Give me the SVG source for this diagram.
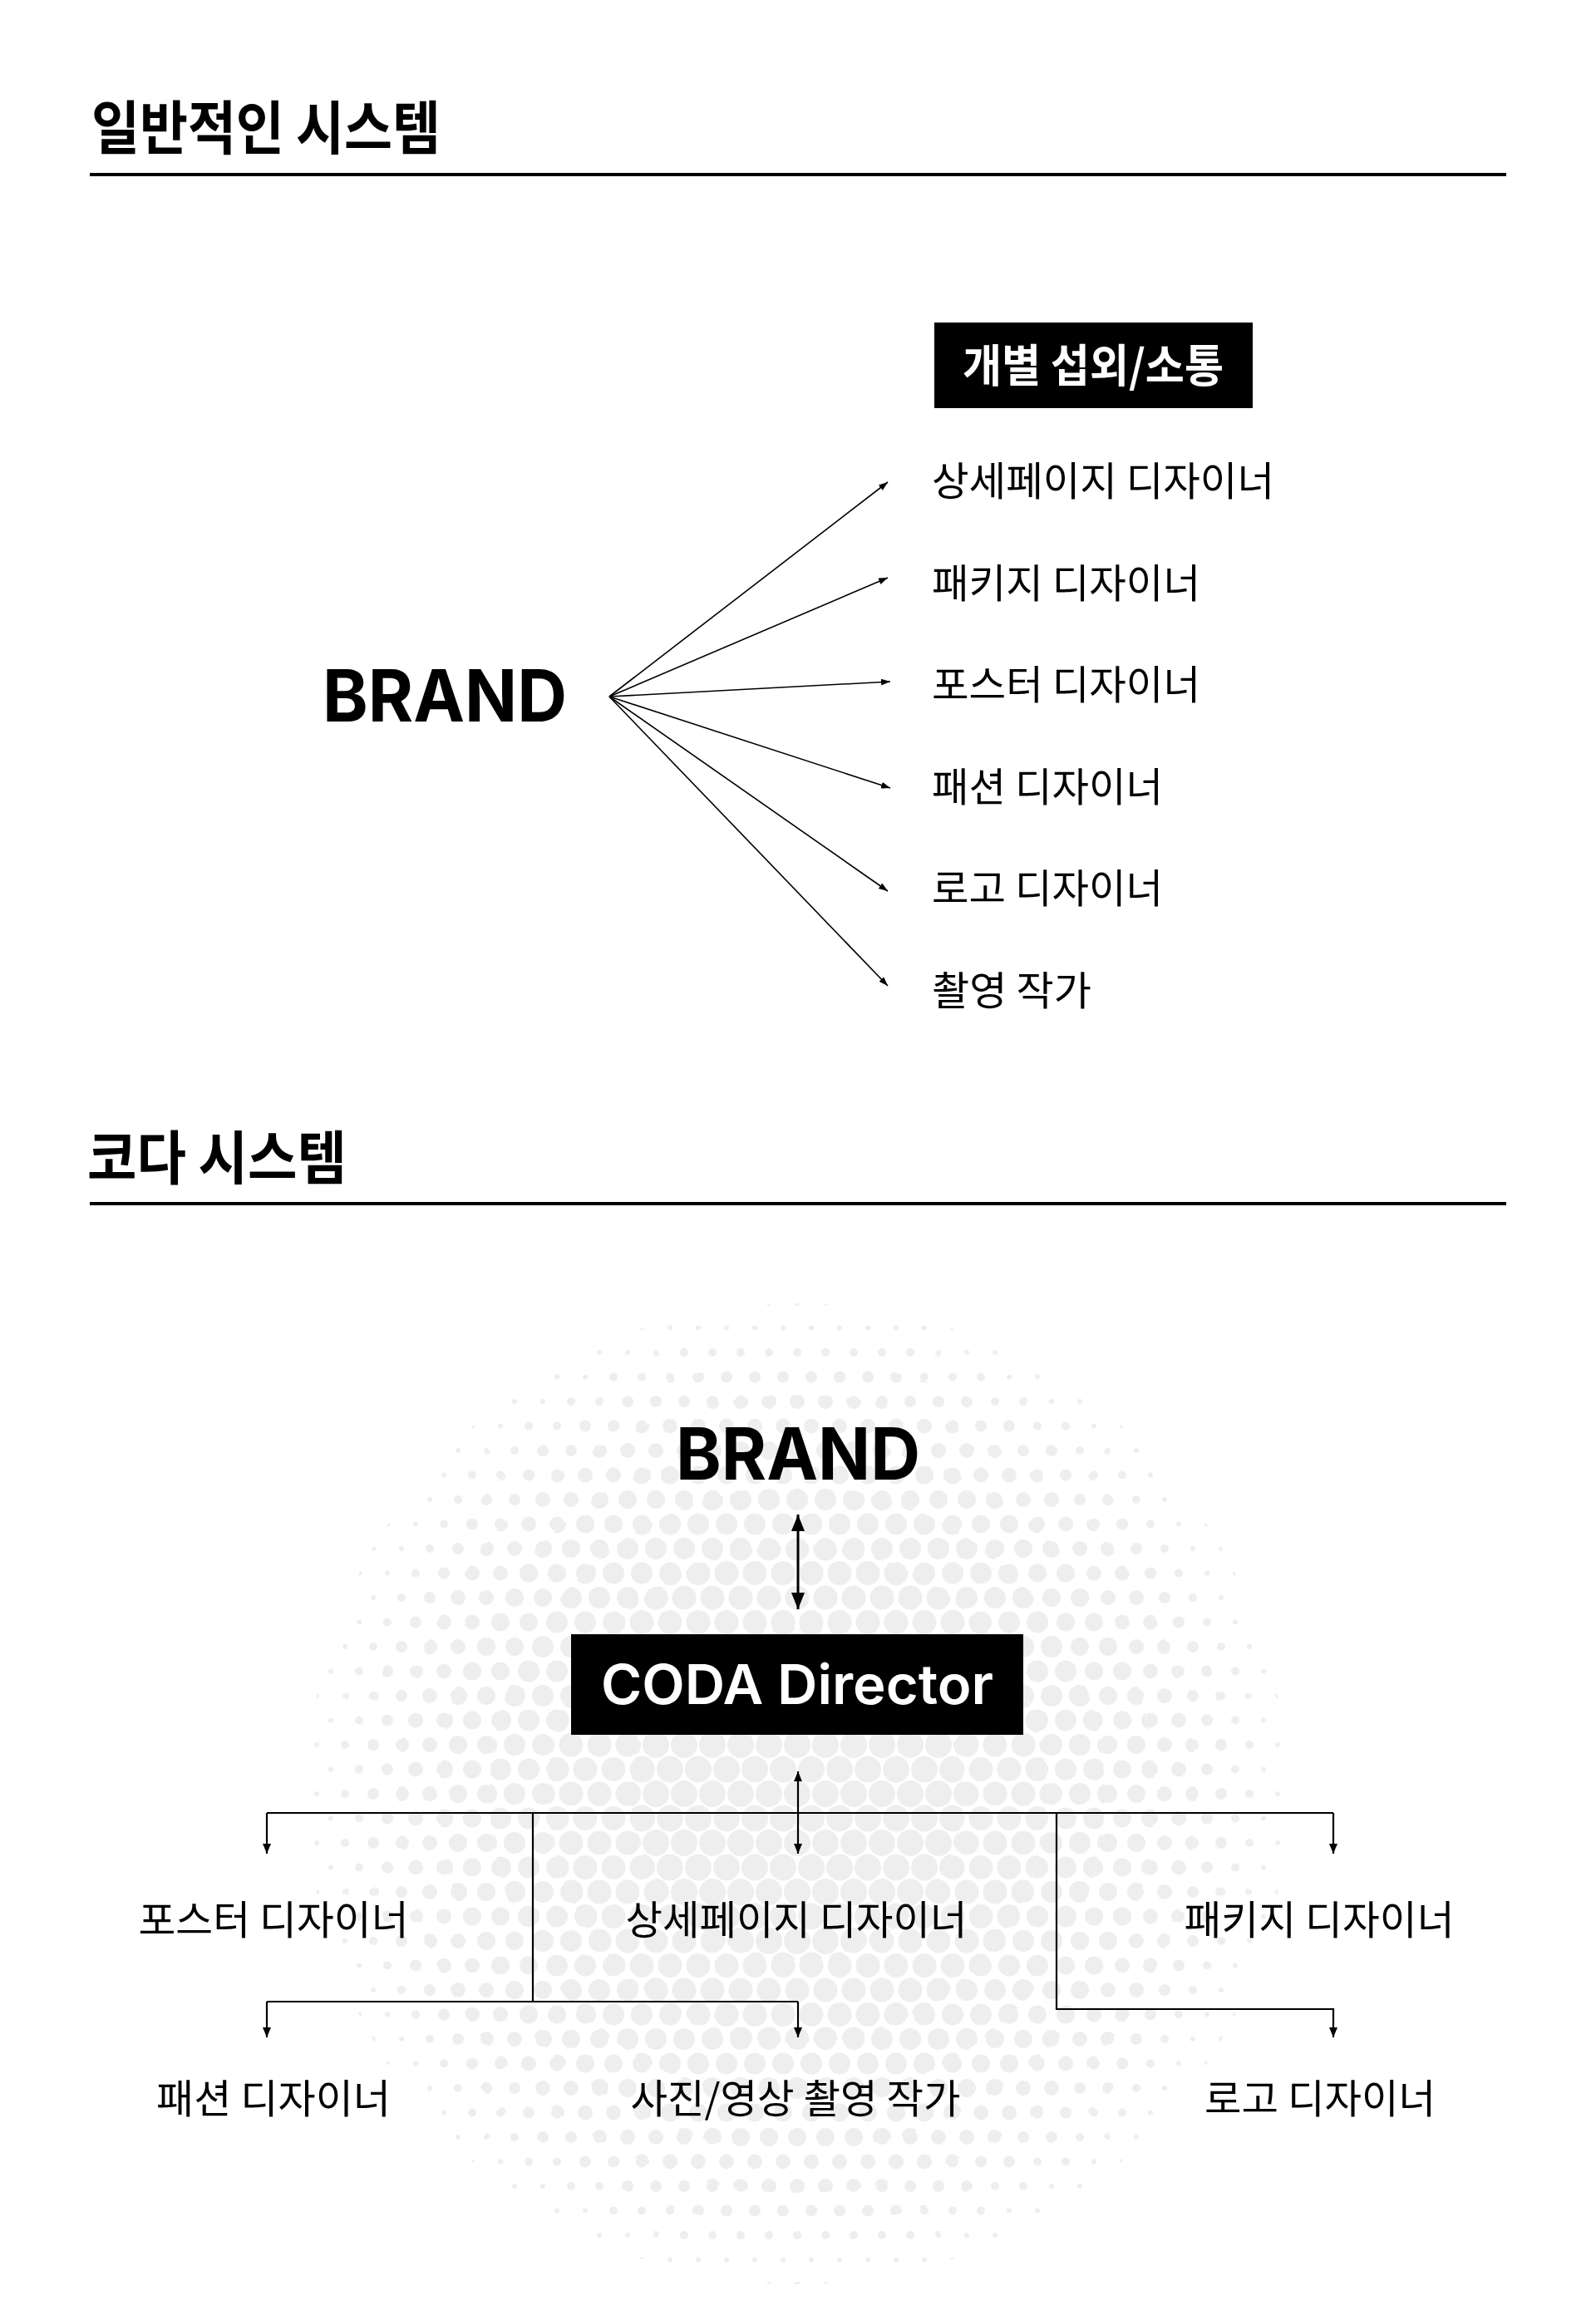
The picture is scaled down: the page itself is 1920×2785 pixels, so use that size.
<svg xmlns="http://www.w3.org/2000/svg" width="1920" height="2785" viewBox="0 0 1920 2785">
<style>
.ko{font-family:"Noto Sans CJK KR","Noto Sans",sans-serif;}
.title{font-size:70px;font-weight:700;fill:#000;}
.item{font-size:48px;font-weight:400;fill:#000;}
.boxt{font-size:54px;font-weight:700;fill:#fff;}
.brand{font-family:Inter,"Liberation Sans",sans-serif;font-size:87px;font-weight:700;fill:#000;}
.coda{font-family:Inter,"Liberation Sans",sans-serif;font-size:66px;font-weight:600;fill:#fff;}
.rule{stroke:#000;stroke-width:4;}
.fan{stroke:#000;stroke-width:1.6;fill:none;marker-end:url(#ah);}
.tree{stroke:#000;stroke-width:2.2;fill:none;}
.dot{fill:#eeeeee;}
</style>
<defs>
<marker id="ah" markerUnits="userSpaceOnUse" markerWidth="11" markerHeight="8" refX="11" refY="4" orient="auto"><path d="M0,0 L11,4 L0,8 z" fill="#000"/></marker>
<marker id="ta" markerUnits="userSpaceOnUse" markerWidth="12" markerHeight="10" refX="12" refY="5" orient="auto-start-reverse"><path d="M0,0 L12,5 L0,10 z" fill="#000"/></marker>
<marker id="ba" markerUnits="userSpaceOnUse" markerWidth="20" markerHeight="16" refX="20" refY="8" orient="auto-start-reverse"><path d="M0,0 L20,8 L0,16 z" fill="#000"/></marker>
<pattern id="q16" patternUnits="userSpaceOnUse" x="959" y="2158" width="34" height="59"><g class="dot"><circle cx="0" cy="0" r="16"/><circle cx="34" cy="0" r="16"/><circle cx="0" cy="59" r="16"/><circle cx="34" cy="59" r="16"/><circle cx="17" cy="29.5" r="16"/></g></pattern>
<pattern id="q14" patternUnits="userSpaceOnUse" x="959" y="2158" width="34" height="59"><g class="dot"><circle cx="0" cy="0" r="14.5"/><circle cx="34" cy="0" r="14.5"/><circle cx="0" cy="59" r="14.5"/><circle cx="34" cy="59" r="14.5"/><circle cx="17" cy="29.5" r="14.5"/></g></pattern>
<pattern id="q13" patternUnits="userSpaceOnUse" x="959" y="2158" width="34" height="59"><g class="dot"><circle cx="0" cy="0" r="13"/><circle cx="34" cy="0" r="13"/><circle cx="0" cy="59" r="13"/><circle cx="34" cy="59" r="13"/><circle cx="17" cy="29.5" r="13"/></g></pattern>
<pattern id="q11" patternUnits="userSpaceOnUse" x="959" y="2158" width="34" height="59"><g class="dot"><circle cx="0" cy="0" r="11"/><circle cx="34" cy="0" r="11"/><circle cx="0" cy="59" r="11"/><circle cx="34" cy="59" r="11"/><circle cx="17" cy="29.5" r="11"/></g></pattern>
<pattern id="q9" patternUnits="userSpaceOnUse" x="959" y="2158" width="34" height="59"><g class="dot"><circle cx="0" cy="0" r="9"/><circle cx="34" cy="0" r="9"/><circle cx="0" cy="59" r="9"/><circle cx="34" cy="59" r="9"/><circle cx="17" cy="29.5" r="9"/></g></pattern>
<pattern id="q7" patternUnits="userSpaceOnUse" x="959" y="2158" width="34" height="59"><g class="dot"><circle cx="0" cy="0" r="7"/><circle cx="34" cy="0" r="7"/><circle cx="0" cy="59" r="7"/><circle cx="34" cy="59" r="7"/><circle cx="17" cy="29.5" r="7"/></g></pattern>
<pattern id="q5" patternUnits="userSpaceOnUse" x="959" y="2158" width="34" height="59"><g class="dot"><circle cx="0" cy="0" r="5"/><circle cx="34" cy="0" r="5"/><circle cx="0" cy="59" r="5"/><circle cx="34" cy="59" r="5"/><circle cx="17" cy="29.5" r="5"/></g></pattern>
<pattern id="q3" patternUnits="userSpaceOnUse" x="959" y="2158" width="34" height="59"><g class="dot"><circle cx="0" cy="0" r="3"/><circle cx="34" cy="0" r="3"/><circle cx="0" cy="59" r="3"/><circle cx="34" cy="59" r="3"/><circle cx="17" cy="29.5" r="3"/></g></pattern>
</defs>
<rect width="1920" height="2785" fill="#fff"/>

<g id="halftone">
<circle cx="959" cy="2158" r="200" fill="url(#q16)"/>
<path d="M959,1858 a300,300 0 1,0 0.01,0 z M959,1958 a200,200 0 1,1 -0.01,0 z" fill="url(#q14)" fill-rule="evenodd"/>
<path d="M959,1788 a370,370 0 1,0 0.01,0 z M959,1858 a300,300 0 1,1 -0.01,0 z" fill="url(#q13)" fill-rule="evenodd"/>
<path d="M959,1728 a430,430 0 1,0 0.01,0 z M959,1788 a370,370 0 1,1 -0.01,0 z" fill="url(#q11)" fill-rule="evenodd"/>
<path d="M959,1678 a480,480 0 1,0 0.01,0 z M959,1728 a430,430 0 1,1 -0.01,0 z" fill="url(#q9)" fill-rule="evenodd"/>
<path d="M959,1638 a520,520 0 1,0 0.01,0 z M959,1678 a480,480 0 1,1 -0.01,0 z" fill="url(#q7)" fill-rule="evenodd"/>
<path d="M959,1603 a555,555 0 1,0 0.01,0 z M959,1638 a520,520 0 1,1 -0.01,0 z" fill="url(#q5)" fill-rule="evenodd"/>
<path d="M959,1568 a590,590 0 1,0 0.01,0 z M959,1603 a555,555 0 1,1 -0.01,0 z" fill="url(#q3)" fill-rule="evenodd"/>
</g>

<g id="section1-header">
<text class="ko title" x="110" y="180" textLength="420" lengthAdjust="spacingAndGlyphs">일반적인 시스템</text>
<line class="rule" x1="108" y1="210" x2="1812" y2="210"/>
</g>
<g id="section2-header">
<text class="ko title" x="105" y="1419" textLength="312" lengthAdjust="spacingAndGlyphs">코다 시스템</text>
<line class="rule" x1="108" y1="1448" x2="1812" y2="1448"/>
</g>

<g id="connectors">
<line class="fan" x1="733" y1="838" x2="1068" y2="580"/>
<line class="fan" x1="733" y1="838" x2="1068" y2="695"/>
<line class="fan" x1="733" y1="838" x2="1071" y2="820"/>
<line class="fan" x1="733" y1="838" x2="1071" y2="948"/>
<line class="fan" x1="733" y1="838" x2="1068" y2="1072"/>
<line class="fan" x1="733" y1="838" x2="1068" y2="1186"/>
<line x1="960" y1="1822" x2="960" y2="1936" stroke="#000" stroke-width="3" marker-start="url(#ba)" marker-end="url(#ba)"/>
<line class="tree" x1="960" y1="2131" x2="960" y2="2230" marker-start="url(#ta)" marker-end="url(#ta)"/>
<path class="tree" d="M321,2181 H1604"/>
<path class="tree" d="M321,2181 V2230" marker-end="url(#ta)"/>
<path class="tree" d="M1604,2181 V2230" marker-end="url(#ta)"/>
<path class="tree" d="M641,2181 V2408"/>
<path class="tree" d="M321,2408 H960"/>
<path class="tree" d="M321,2408 V2451" marker-end="url(#ta)"/>
<path class="tree" d="M960,2408 V2451" marker-end="url(#ta)"/>
<path class="tree" d="M1271,2181 V2417 H1604 V2451" marker-end="url(#ta)"/>
</g>

<g id="brand-top"><text class="brand" x="388" y="868" textLength="294" lengthAdjust="spacingAndGlyphs">BRAND</text></g>
<g id="individual-box">
<rect x="1124" y="388" width="383" height="103" fill="#000"/>
<text class="ko boxt" x="1315" y="460" text-anchor="middle" textLength="314" lengthAdjust="spacingAndGlyphs">개별 섭외/소통</text>
</g>
<g id="item-detail"><text class="ko item" x="1121" y="596" textLength="412" lengthAdjust="spacingAndGlyphs">상세페이지 디자이너</text></g>
<g id="item-package"><text class="ko item" x="1121" y="719" textLength="323" lengthAdjust="spacingAndGlyphs">패키지 디자이너</text></g>
<g id="item-poster"><text class="ko item" x="1121" y="841" textLength="323" lengthAdjust="spacingAndGlyphs">포스터 디자이너</text></g>
<g id="item-fashion"><text class="ko item" x="1121" y="964" textLength="278" lengthAdjust="spacingAndGlyphs">패션 디자이너</text></g>
<g id="item-logo"><text class="ko item" x="1121" y="1086" textLength="278" lengthAdjust="spacingAndGlyphs">로고 디자이너</text></g>
<g id="item-photo"><text class="ko item" x="1121" y="1209" textLength="192" lengthAdjust="spacingAndGlyphs">촬영 작가</text></g>

<g id="brand-coda"><text class="brand" x="960" y="1780" text-anchor="middle" textLength="294" lengthAdjust="spacingAndGlyphs">BRAND</text></g>
<g id="coda-director">
<rect x="687" y="1966" width="544" height="121" fill="#000"/>
<text class="coda" x="959" y="2050" text-anchor="middle" textLength="472" lengthAdjust="spacingAndGlyphs">CODA Director</text>
</g>
<g id="c-poster"><text class="ko item" x="329" y="2327" text-anchor="middle" textLength="325" lengthAdjust="spacingAndGlyphs">포스터 디자이너</text></g>
<g id="c-detail"><text class="ko item" x="958" y="2327" text-anchor="middle" textLength="411" lengthAdjust="spacingAndGlyphs">상세페이지 디자이너</text></g>
<g id="c-package"><text class="ko item" x="1587" y="2327" text-anchor="middle" textLength="325" lengthAdjust="spacingAndGlyphs">패키지 디자이너</text></g>
<g id="c-fashion"><text class="ko item" x="329" y="2542" text-anchor="middle" textLength="282" lengthAdjust="spacingAndGlyphs">패션 디자이너</text></g>
<g id="c-photo"><text class="ko item" x="957" y="2542" text-anchor="middle" textLength="397" lengthAdjust="spacingAndGlyphs">사진/영상 촬영 작가</text></g>
<g id="c-logo"><text class="ko item" x="1588" y="2542" text-anchor="middle" textLength="278" lengthAdjust="spacingAndGlyphs">로고 디자이너</text></g>
</svg>
